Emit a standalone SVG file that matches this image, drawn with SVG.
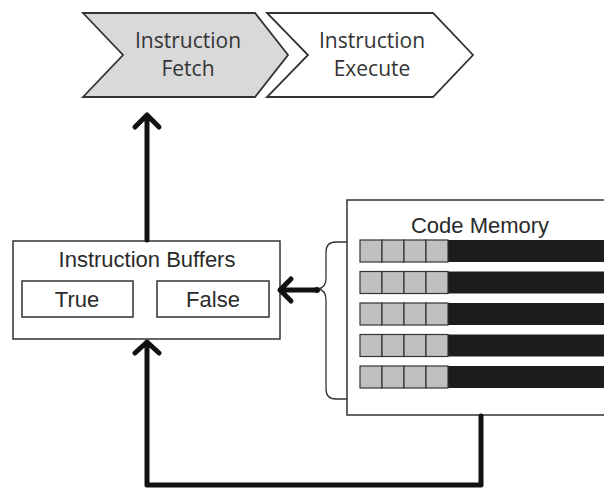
<svg xmlns="http://www.w3.org/2000/svg" width="604" height="488" viewBox="0 0 604 488">
<style>
.t{font-family:"Open Sans","Liberation Sans",sans-serif;fill:#333;text-anchor:middle;font-size:21px}
.h{font-family:"Liberation Sans",Arial,sans-serif;fill:#2a2a2a;text-anchor:middle;font-size:22px}
.box{fill:#fff;stroke:#333;stroke-width:1.5}
.cell{fill:#c0c0c2;stroke:#333;stroke-width:1.2}
.bar{fill:#1e1b1c}
.conn{fill:none;stroke:#111;stroke-width:5;stroke-linecap:round;stroke-linejoin:round}
</style>
<rect width="604" height="488" fill="#fff"/>
<g id="fetch">
<polygon points="83,13 255,13 288,55 255,97 83,97 123,55" fill="#d9d9d9" stroke="#333" stroke-width="1.8"/>
<text class="t" x="188" y="48">Instruction</text>
<text class="t" x="188" y="76">Fetch</text>
</g>
<g id="execute">
<polygon points="267,13 433,13 473,55 433,97 267,97 308,55" fill="#fff" stroke="#333" stroke-width="1.8"/>
<text class="t" x="372" y="48">Instruction</text>
<text class="t" x="372" y="76">Execute</text>
</g>
<g id="buffers">
<rect class="box" x="13" y="241" width="267" height="98"/>
<text class="h" x="147" y="267">Instruction Buffers</text>
<rect class="box" x="22" y="281" width="111" height="36"/>
<text class="h" x="77" y="307">True</text>
<rect class="box" x="157" y="281" width="112" height="36"/>
<text class="h" x="213" y="307">False</text>
</g>
<g id="code-memory">
<rect class="box" x="347" y="200" width="270" height="215"/>
<text class="h" x="480" y="233">Code Memory</text>
<g id="rows">
<g transform="translate(0,240)"><rect class="bar" x="448" y="0" width="160" height="22"/><rect class="cell" x="360" y="0" width="22" height="22"/><rect class="cell" x="382" y="0" width="22" height="22"/><rect class="cell" x="404" y="0" width="22" height="22"/><rect class="cell" x="426" y="0" width="22" height="22"/></g>
<g transform="translate(0,271.5)"><rect class="bar" x="448" y="0" width="160" height="22"/><rect class="cell" x="360" y="0" width="22" height="22"/><rect class="cell" x="382" y="0" width="22" height="22"/><rect class="cell" x="404" y="0" width="22" height="22"/><rect class="cell" x="426" y="0" width="22" height="22"/></g>
<g transform="translate(0,303)"><rect class="bar" x="448" y="0" width="160" height="22"/><rect class="cell" x="360" y="0" width="22" height="22"/><rect class="cell" x="382" y="0" width="22" height="22"/><rect class="cell" x="404" y="0" width="22" height="22"/><rect class="cell" x="426" y="0" width="22" height="22"/></g>
<g transform="translate(0,334.5)"><rect class="bar" x="448" y="0" width="160" height="22"/><rect class="cell" x="360" y="0" width="22" height="22"/><rect class="cell" x="382" y="0" width="22" height="22"/><rect class="cell" x="404" y="0" width="22" height="22"/><rect class="cell" x="426" y="0" width="22" height="22"/></g>
<g transform="translate(0,366)"><rect class="bar" x="448" y="0" width="160" height="22"/><rect class="cell" x="360" y="0" width="22" height="22"/><rect class="cell" x="382" y="0" width="22" height="22"/><rect class="cell" x="404" y="0" width="22" height="22"/><rect class="cell" x="426" y="0" width="22" height="22"/></g>
</g>
</g>
<g id="connectors">
<path d="M347,242 L336,242 Q326,242 326,252 L326,278 Q326,288 318,289 Q326,290 326,300 L326,389 Q326,399 336,399 L347,399" fill="none" stroke="#333" stroke-width="1.3"/>
<path class="conn" d="M147,240 L147,115 M135,127 L147,115 L159,127"/>
<path class="conn" d="M316,290 L280,290 M291,279 L280,290 L291,301"/>
<circle cx="317" cy="290" r="3" fill="#111"/>
<path class="conn" d="M481,416 L481,485 L147,485 L147,342 M135,353 L147,342 L159,353"/>
</g>
</svg>
